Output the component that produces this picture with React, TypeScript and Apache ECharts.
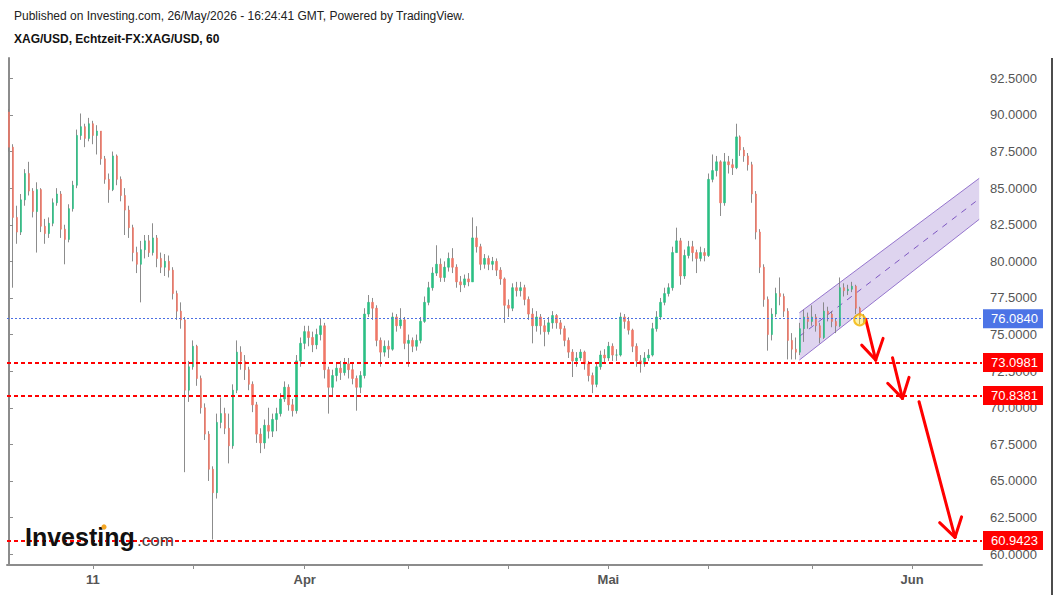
import React, { useEffect, useRef } from "react";
import * as echarts from "echarts";

// ---------- data ----------
const firstOpen = 90.2;
const closes = [
  87.8, 83.0, 82.0, 84.2, 86.0, 84.8, 83.4, 84.9, 82.4, 81.9,
  82.6, 84.0, 84.6, 82.2, 81.5, 83.6, 85.2, 88.6, 89.2, 88.4,
  89.4, 88.6, 88.9, 87.0, 85.6, 84.9, 87.2, 85.6, 84.5, 83.5,
  82.3, 80.6, 79.8, 80.8, 81.4, 80.6, 81.6, 80.2, 79.6, 80.0,
  79.4, 77.8, 76.6, 76.0, 71.2, 72.8, 74.2, 72.0, 70.0, 68.2,
  65.8, 64.2, 69.0, 69.6, 68.6, 67.4, 71.2, 73.8, 73.2, 72.6,
  71.6, 70.2, 68.2, 67.6, 68.8, 68.4, 69.2, 69.6, 70.6, 71.4,
  70.2, 69.8, 73.2, 74.4, 75.2, 74.8, 74.3, 75.0, 75.6, 72.6,
  71.4, 72.2, 72.7, 72.4, 73.0, 72.6, 72.0, 71.4, 72.2, 76.4,
  77.2, 76.8, 74.6, 73.8, 74.2, 74.0, 76.2, 75.6, 76.0, 74.4,
  74.6, 74.2, 74.6, 75.9, 77.2, 78.2, 79.2, 79.8, 78.9, 79.6,
  80.2, 79.6, 78.6, 78.4, 78.8, 78.6, 81.6, 81.0, 79.8, 80.2,
  79.8, 80.0, 79.4, 78.8, 77.0, 76.8, 78.2, 78.0, 78.2, 77.4,
  76.4, 75.6, 76.2, 75.6, 75.2, 75.8, 76.3, 75.8, 75.4, 74.6,
  73.8, 73.2, 73.4, 73.8, 73.0, 72.2, 71.6, 72.8, 73.6, 73.4,
  74.2, 73.6, 73.6, 76.2, 75.9, 75.3, 74.2, 73.2, 73.0, 73.4,
  73.6, 75.4, 76.2, 77.2, 77.8, 78.2, 80.6, 81.4, 79.0, 80.4,
  81.0, 80.6, 80.2, 80.6, 80.4, 85.6, 86.2, 86.8, 84.0, 86.8,
  86.6, 86.4, 88.5, 87.6, 87.2, 86.6, 84.6, 82.0, 79.6, 77.4,
  75.0, 76.4, 77.8, 77.6, 76.6, 74.6, 74.0, 73.8, 75.4, 76.2,
  75.9, 76.2, 75.6, 74.8, 76.6, 76.4, 75.9, 75.6, 78.2, 78.0,
  78.1, 78.3, 76.8, 76.2, 76.084,
];
const highs = [
  90.4, 88.0, 83.8, 84.6, 86.3, 86.8, 85.0, 85.4, 85.0, 82.9,
  83.0, 84.3, 85.0, 84.8, 82.5, 83.9, 85.5, 89.0, 90.1, 89.4,
  89.8, 89.6, 89.3, 88.9, 87.2, 86.0, 87.5, 87.3, 85.8, 85.0,
  83.8, 82.5, 81.0, 81.4, 81.8, 81.8, 82.6, 81.8, 80.6, 80.5,
  80.4, 79.6, 78.0, 77.2, 76.2, 73.2, 74.6, 74.3, 72.2, 70.3,
  68.4, 66.0, 69.6, 70.7, 70.0, 69.6, 71.6, 74.6, 74.2, 73.6,
  72.8, 71.8, 70.4, 68.6, 69.2, 70.0, 69.6, 70.0, 71.0, 71.8,
  71.6, 70.6, 73.6, 74.8, 75.6, 75.6, 75.2, 75.4, 76.1, 75.8,
  72.8, 72.6, 73.0, 73.2, 73.4, 73.4, 73.0, 72.2, 72.5, 76.8,
  77.7, 77.5, 77.0, 74.8, 74.6, 74.6, 76.5, 76.4, 76.8, 76.2,
  75.0, 74.8, 75.0, 76.2, 77.6, 78.6, 79.6, 81.1, 80.2, 80.0,
  80.6, 80.9, 79.8, 79.0, 79.1, 79.2, 83.0, 82.4, 81.2, 80.5,
  80.4, 80.3, 80.2, 79.6, 78.9, 77.4, 78.5, 78.6, 78.6, 78.4,
  77.6, 76.8, 76.6, 76.4, 76.0, 76.2, 76.6, 76.4, 76.0, 75.6,
  74.8, 74.0, 73.8, 74.0, 73.9, 73.2, 72.4, 73.0, 73.9, 74.0,
  74.5, 74.4, 74.0, 76.5, 76.4, 76.2, 75.4, 74.4, 73.6, 73.8,
  74.0, 75.8, 76.6, 77.5, 78.2, 78.5, 81.0, 82.3, 81.6, 80.8,
  81.4, 81.4, 80.8, 81.0, 80.9, 86.0, 87.3, 87.2, 86.9, 87.4,
  87.2, 87.0, 89.4, 88.6, 87.8, 87.4, 86.8, 84.8, 82.2, 79.8,
  77.6, 76.8, 78.2, 78.9, 77.8, 76.8, 75.1, 74.8, 75.8, 76.7,
  76.5, 77.0, 76.4, 75.8, 77.2, 76.9, 76.6, 76.1, 78.9, 78.5,
  78.4, 78.6, 78.4, 76.9, 76.4,
];
const lows = [
  87.5, 78.2, 81.2, 81.8, 83.8, 84.5, 83.0, 80.6, 82.0, 81.2,
  81.6, 82.4, 83.8, 81.6, 79.8, 81.3, 83.4, 85.0, 88.3, 87.8,
  88.2, 88.0, 87.3, 86.6, 85.3, 84.0, 84.8, 85.2, 84.1, 81.8,
  81.6, 80.0, 79.2, 77.2, 80.2, 80.3, 80.4, 79.6, 79.2, 79.0,
  78.9, 77.4, 76.0, 75.4, 65.6, 70.4, 72.6, 71.5, 69.6, 67.8,
  65.0, 61.0, 63.8, 68.6, 68.2, 66.2, 67.2, 71.0, 72.6, 71.9,
  71.2, 69.7, 67.6, 66.9, 67.2, 67.9, 68.0, 68.4, 69.4, 70.4,
  69.8, 69.4, 69.6, 72.8, 74.0, 74.2, 73.8, 74.0, 74.6, 72.0,
  69.6, 70.8, 71.8, 71.9, 72.2, 72.0, 71.6, 69.8, 71.0, 72.0,
  76.2, 76.0, 74.2, 72.8, 73.5, 73.4, 73.9, 75.2, 75.4, 74.0,
  72.8, 73.8, 73.9, 74.4, 75.8, 77.0, 78.0, 79.0, 78.6, 78.6,
  79.3, 79.2, 78.2, 77.9, 78.2, 78.3, 78.6, 80.6, 79.4, 79.5,
  79.4, 79.4, 79.0, 78.4, 75.8, 76.2, 76.6, 77.6, 77.6, 77.0,
  76.0, 74.4, 75.2, 75.0, 74.2, 75.0, 75.4, 75.4, 75.0, 74.2,
  73.4, 72.1, 72.8, 73.2, 72.6, 71.8, 71.0, 71.4, 72.6, 73.0,
  73.2, 73.2, 73.2, 73.5, 75.4, 75.0, 73.8, 72.8, 72.4, 72.8,
  73.2, 73.5, 75.2, 76.0, 77.0, 77.6, 78.0, 80.6, 78.4, 78.8,
  80.2, 80.0, 79.2, 80.0, 80.0, 80.3, 85.4, 85.8, 83.1, 83.8,
  86.0, 85.9, 86.3, 87.2, 86.8, 86.2, 84.0, 81.5, 79.2, 76.9,
  73.9, 74.6, 76.2, 77.0, 76.2, 73.3, 73.3, 73.3, 73.6, 74.5,
  75.4, 75.6, 75.2, 74.4, 74.7, 75.9, 75.5, 75.1, 75.5, 77.6,
  77.7, 77.9, 76.4, 75.7, 75.8,
];

const slotCount = 244;
const xTickIdx = [21, 46, 74, 100, 125, 150, 175, 201, 226];
const xTickText = ["11", "", "Apr", "", "", "Mai", "", "", "Jun"];
const yTickValues = [60, 62.5, 65, 67.5, 70, 72.5, 75, 77.5, 80, 82.5, 85, 87.5, 90, 92.5];
const yMin = 59.26;
const yMax = 93.89;

const lastPrice = 76.084;
const supportLevels = [73.0981, 70.8381, 60.9423];

// channel: [x, lower, upper] at start and end
const channelStart = [197.8, 73.26, 76.49];
const channelEnd = [242.8, 82.87, 85.67];

const arrowFrom = [[214.4, 76.04], [221.1, 73.42], [227.75, 70.41]];
const arrowTo = [[216.9, 73.26], [223.6, 70.64], [236.75, 61.15]];
const arrowLeft = [[213.4, 74.28], [219.9, 71.67], [232.9, 62.15]];
const arrowRight = [[218.75, 74.74], [225.25, 72.08], [238.4, 62.55]];
const markerPoint = [212.9, 76.0];

const FONT = '"Liberation Sans", Arial, Helvetica, sans-serif';
const UP = "#2cbf84";
const DOWN = "#ef7868";
const WICK = "#808080";

export default function App() {
  const ref = useRef<HTMLDivElement>(null);

  useEffect(() => {
    if (!ref.current) return;
    const chart = echarts.init(ref.current, undefined, { renderer: "svg" });

    const categories = Array.from({ length: slotCount }, (_, i) => String(i));
    const opens = closes.map((_, i) => (i === 0 ? firstOpen : closes[i - 1]));
    const wickData = closes.map((c, i) => {
      const o = opens[i];
      return [o, c, Math.min(lows[i], o, c), Math.max(highs[i], o, c)];
    });
    const bodyData = closes.map((c, i) => {
      const o = opens[i];
      return [o, c, Math.min(o, c), Math.max(o, c)];
    });
    const tickLabelMap: Record<number, string> = {};
    xTickIdx.forEach((idx, k) => (tickLabelMap[idx] = xTickText[k]));

    const levelLine = (v: number) => ({
      yAxis: v,
      lineStyle: { color: "#ff0000", width: 2, type: [4, 3] as any },
      label: {
        show: true,
        position: "end",
        distance: 1,
        formatter: v.toFixed(4),
        color: "#ffffff",
        backgroundColor: "#ff0000",
        padding: [3, 5, 3, 8],
        fontSize: 13,
        fontFamily: FONT,
      },
    });

    const option: any = {
      animation: false,
      backgroundColor: "#ffffff",
      textStyle: { fontFamily: FONT },
      grid: { left: 7, right: 78, top: 58, bottom: 30, containLabel: false },
      xAxis: [
        {
          type: "category",
          data: categories,
          boundaryGap: true,
          axisLine: { show: true, lineStyle: { color: "#8c8c8c", width: 2 } },
          axisTick: {
            show: true,
            alignWithLabel: true,
            length: 4,
            interval: (i: number) => tickLabelMap[i] !== undefined,
            lineStyle: { color: "#8c8c8c", width: 1 },
          },
          axisLabel: {
            show: true,
            interval: (i: number) => !!tickLabelMap[i],
            formatter: (_v: string, i: number) => tickLabelMap[i] || "",
            color: "#555555",
            fontSize: 13,
            fontWeight: "bold",
            fontFamily: FONT,
            margin: 8,
          },
          splitLine: { show: false },
        },
        {
          type: "value",
          min: -0.5,
          max: slotCount - 0.5,
          show: false,
        },
      ],
      yAxis: {
        type: "value",
        position: "right",
        min: yMin,
        max: yMax,
        axisLine: { show: true, lineStyle: { color: "#8c8c8c", width: 2 } },
        axisTick: {
          show: true,
          length: 4,
          customValues: yTickValues,
          lineStyle: { color: "#8c8c8c" },
        },
        axisLabel: {
          show: true,
          customValues: yTickValues,
          formatter: (v: number) => v.toFixed(4),
          color: "#555555",
          fontSize: 13,
          fontFamily: FONT,
          margin: 8,
        },
        splitLine: { show: false },
      },
      series: [
        {
          type: "candlestick",
          name: "wicks",
          xAxisIndex: 0,
          data: wickData,
          barWidth: 1,
          clip: false,
          itemStyle: {
            color: WICK,
            color0: WICK,
            borderColor: WICK,
            borderColor0: WICK,
            borderWidth: 1,
            opacity: 0.9,
          },
          markLine: {
            silent: true,
            symbol: ["none", "none"],
            animation: false,
            data: [
              {
                yAxis: lastPrice,
                lineStyle: { color: "#4a6fe3", width: 1, type: [2, 2] as any },
                label: {
                  show: true,
                  position: "end",
                  distance: 1,
                  formatter: lastPrice.toFixed(4),
                  color: "#ffffff",
                  backgroundColor: "#4c74e6",
                  padding: [3, 5, 3, 8],
                  fontSize: 13,
                  fontFamily: FONT,
                },
              },
              ...supportLevels.map(levelLine),
            ],
          },
        },
        {
          type: "candlestick",
          name: "bodies",
          xAxisIndex: 0,
          data: bodyData,
          barWidth: 2,
          itemStyle: {
            color: UP,
            color0: DOWN,
            borderColor: UP,
            borderColor0: DOWN,
            borderWidth: 0.6,
          },
        },
        {
          type: "custom",
          name: "channel",
          xAxisIndex: 1,
          yAxisIndex: 0,
          silent: true,
          data: [[channelStart[0], channelStart[1], channelStart[2], channelEnd[0], channelEnd[1], channelEnd[2]]],
          renderItem: (_p: any, api: any) => {
            const p0l = api.coord([api.value(0), api.value(1)]);
            const p0h = api.coord([api.value(0), api.value(2)]);
            const p1l = api.coord([api.value(3), api.value(4)]);
            const p1h = api.coord([api.value(3), api.value(5)]);
            const m0 = api.coord([api.value(0), (api.value(1) + api.value(2)) / 2]);
            const m1 = api.coord([api.value(3), (api.value(4) + api.value(5)) / 2]);
            return {
              type: "group",
              children: [
                {
                  type: "polygon",
                  shape: { points: [p0l, p0h, p1h, p1l] },
                  style: { fill: "rgba(126,87,194,0.26)" },
                },
                {
                  type: "line",
                  shape: { x1: p0h[0], y1: p0h[1], x2: p1h[0], y2: p1h[1] },
                  style: { stroke: "#9575cd", lineWidth: 1 },
                },
                {
                  type: "line",
                  shape: { x1: p0l[0], y1: p0l[1], x2: p1l[0], y2: p1l[1] },
                  style: { stroke: "#9575cd", lineWidth: 1 },
                },
                {
                  type: "line",
                  shape: { x1: m0[0], y1: m0[1], x2: m1[0], y2: m1[1] },
                  style: { stroke: "#7e57c2", lineWidth: 1, lineDash: [6, 6] },
                },
              ],
            };
          },
        },
        {
          type: "scatter",
          name: "marker",
          xAxisIndex: 1,
          yAxisIndex: 0,
          silent: true,
          data: [markerPoint],
          symbol: "circle",
          symbolSize: 11,
          itemStyle: {
            color: "rgba(255,225,60,0.55)",
            borderColor: "#f2b300",
            borderWidth: 2,
          },
        },
        {
          type: "custom",
          name: "arrows",
          xAxisIndex: 1,
          yAxisIndex: 0,
          silent: true,
          data: arrowFrom.map((f, k) => [
            f[0], f[1], arrowTo[k][0], arrowTo[k][1],
            arrowLeft[k][0], arrowLeft[k][1], arrowRight[k][0], arrowRight[k][1],
          ]),
          renderItem: (_p: any, api: any) => {
            const a = api.coord([api.value(0), api.value(1)]);
            const t = api.coord([api.value(2), api.value(3)]);
            const l = api.coord([api.value(4), api.value(5)]);
            const r = api.coord([api.value(6), api.value(7)]);
            const st = { stroke: "#ff0000", lineWidth: 3, lineCap: "round" };
            return {
              type: "group",
              children: [
                { type: "line", shape: { x1: a[0], y1: a[1], x2: t[0], y2: t[1] }, style: st },
                { type: "line", shape: { x1: l[0], y1: l[1], x2: t[0], y2: t[1] }, style: st },
                { type: "line", shape: { x1: r[0], y1: r[1], x2: t[0], y2: t[1] }, style: st },
              ],
            };
          },
        },
      ],
      graphic: [
        {
          type: "text",
          left: 14,
          top: 10,
          style: {
            text: "Published on Investing.com, 26/May/2026 - 16:24:41 GMT, Powered by TradingView.",
            fill: "#222222",
            font: `12px ${FONT}`,
          },
        },
        {
          type: "text",
          left: 14,
          top: 33,
          style: {
            text: "XAG/USD, Echtzeit-FX:XAG/USD, 60",
            fill: "#111111",
            font: `bold 12px ${FONT}`,
          },
        },
        {
          type: "text",
          left: 25,
          top: 524,
          z: 20,
          style: {
            text: "Investing",
            fill: "#111111",
            font: `bold 25px ${FONT}`,
          },
        },
        {
          type: "text",
          left: 137,
          top: 532,
          z: 20,
          style: {
            text: ".com",
            fill: "#444444",
            font: `17px ${FONT}`,
          },
        },
        {
          type: "circle",
          z: 21,
          shape: { cx: 104, cy: 527, r: 2.6 },
          style: { fill: "#f5a623" },
        },
        {
          type: "line",
          shape: { x1: 1052, y1: 58, x2: 1052, y2: 595 },
          style: { stroke: "#111111", lineWidth: 1.5 },
        },
      ],
    };

    chart.setOption(option);
    return () => chart.dispose();
  }, []);

  return (
    <div
      ref={ref}
      style={{ position: "fixed", left: 0, top: 0, width: 1060, height: 595, background: "#fff" }}
    />
  );
}
